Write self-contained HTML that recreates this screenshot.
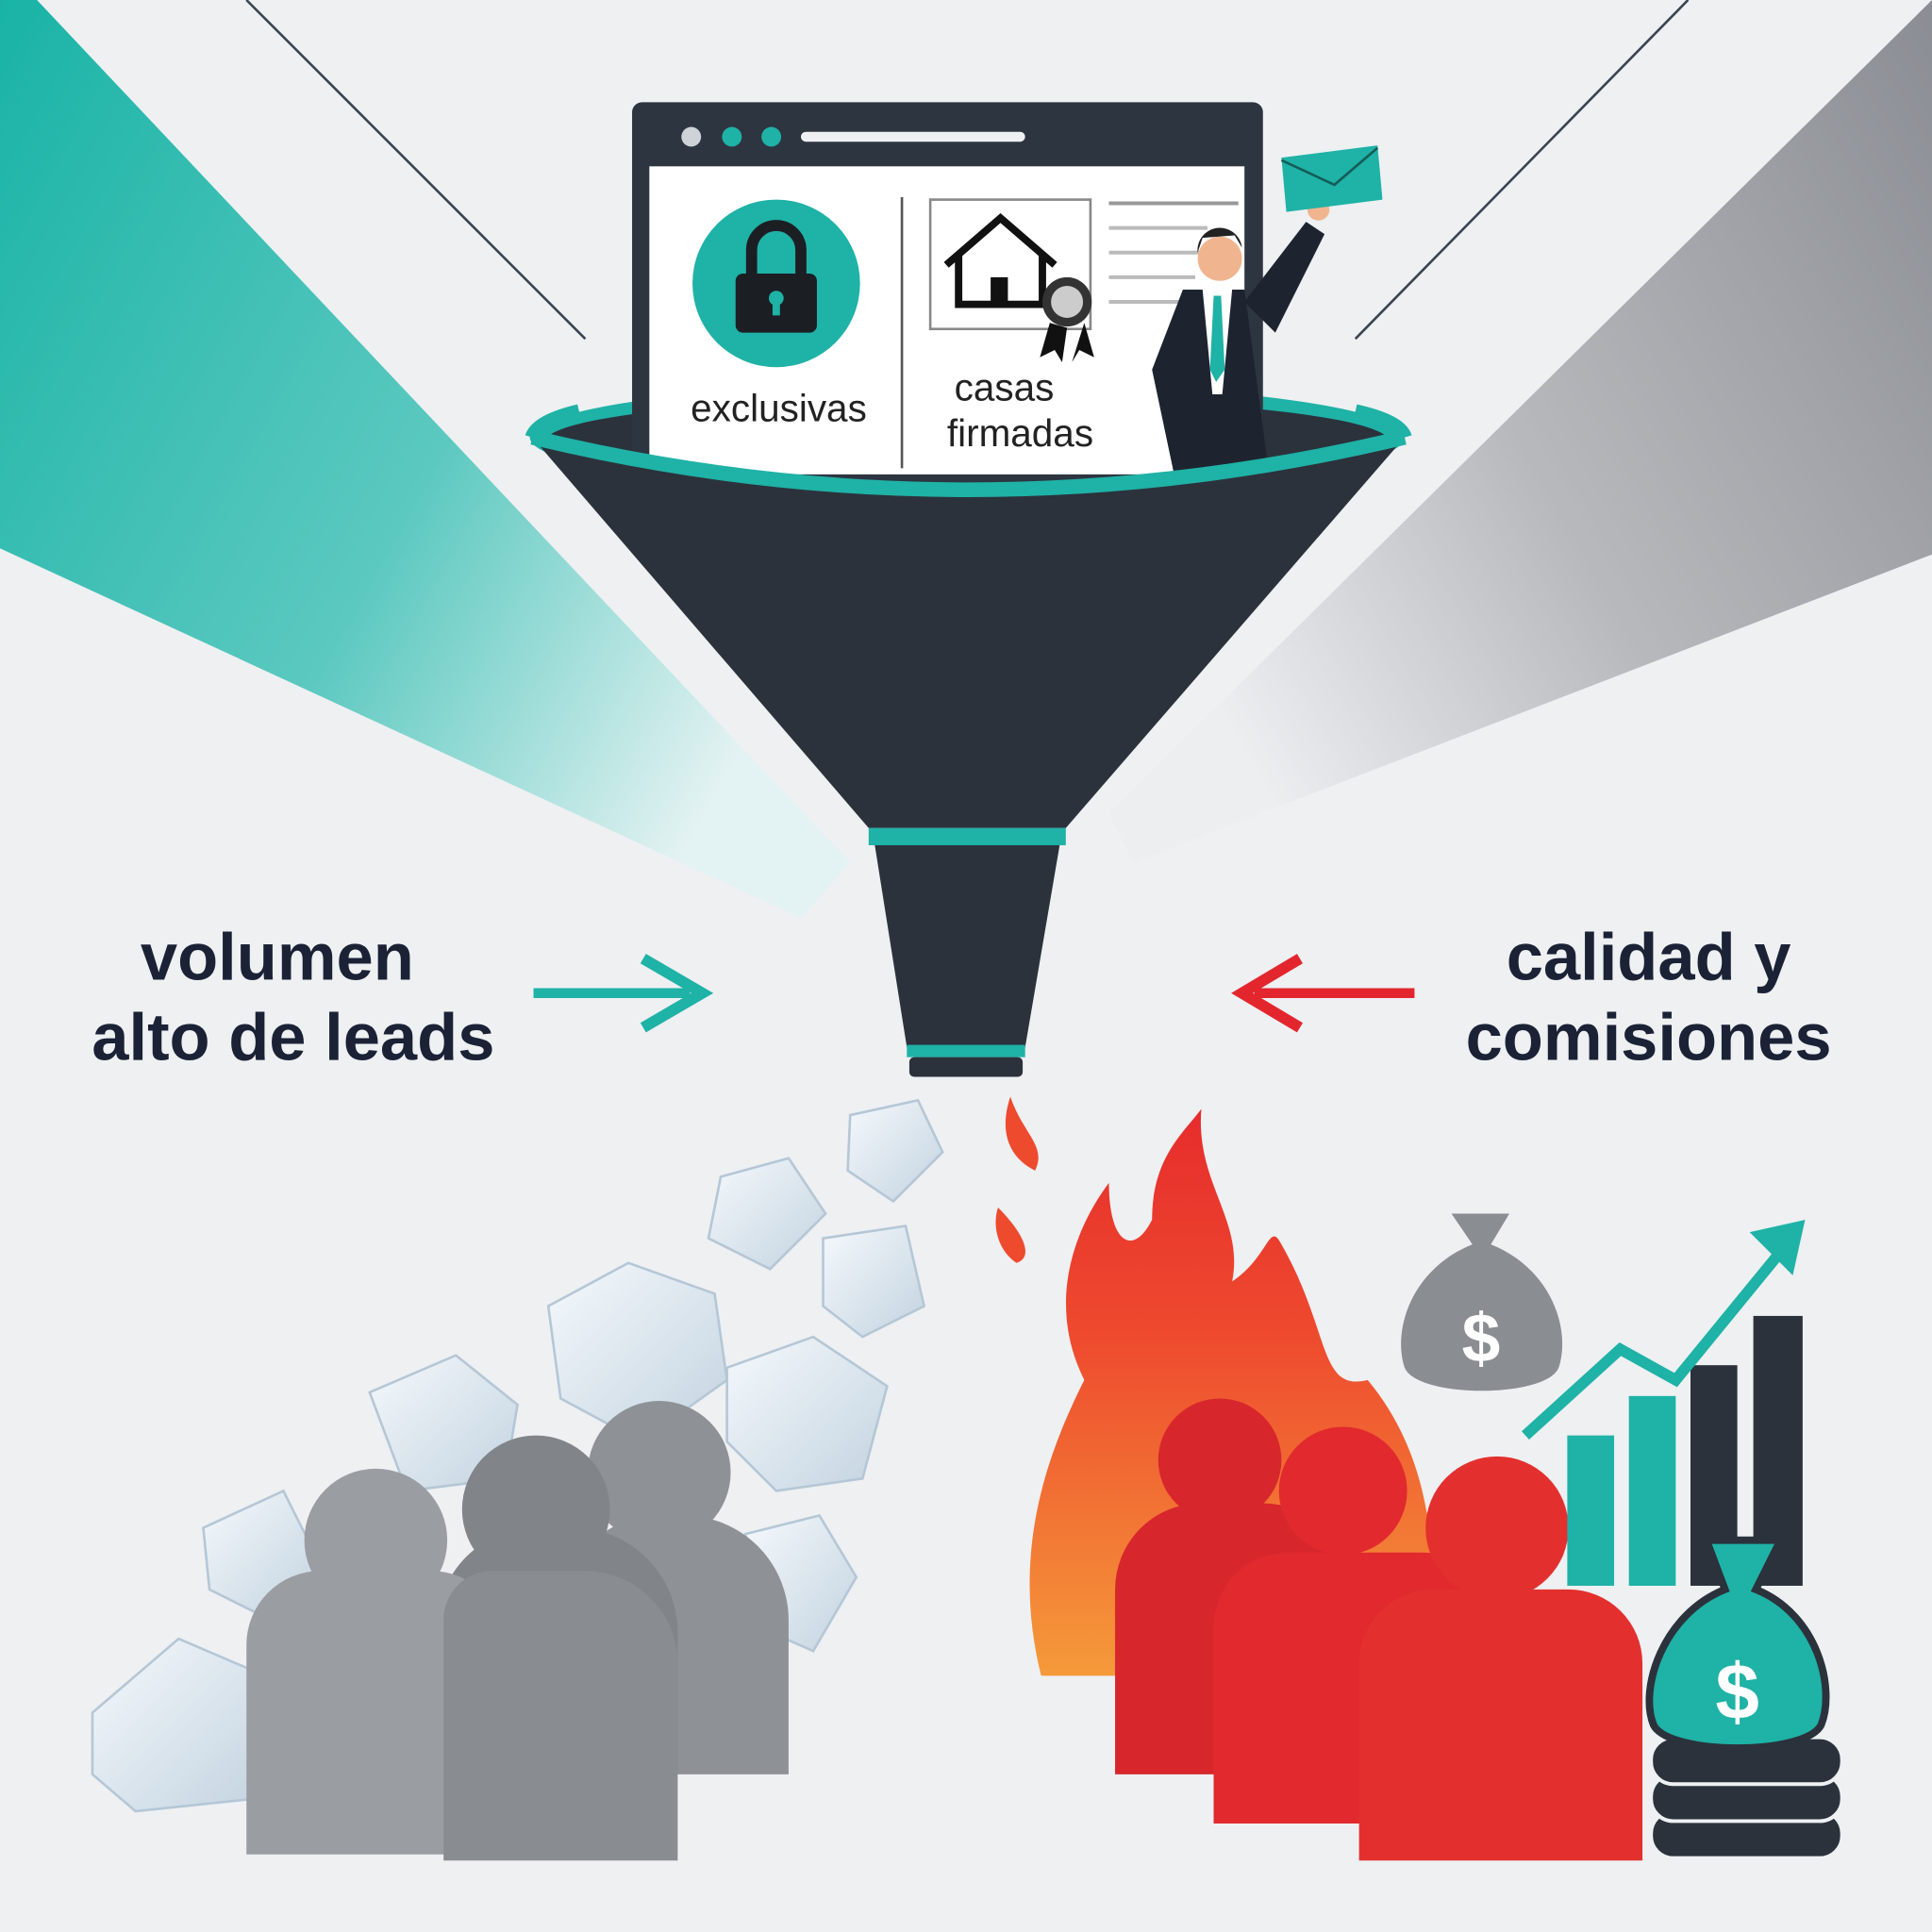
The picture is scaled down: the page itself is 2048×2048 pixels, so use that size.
<!DOCTYPE html>
<html><head><meta charset="utf-8"><style>
html,body{margin:0;padding:0;background:#eef0f2;}
svg{display:block}
text{font-family:"Liberation Sans",sans-serif;}
</style></head><body>
<svg width="2048" height="2048" viewBox="0 0 1568 1568" xmlns="http://www.w3.org/2000/svg">
<defs>
<linearGradient id="tl" x1="0" y1="0" x2="1" y2="0.6">
<stop offset="0" stop-color="#19b3a6"/><stop offset="0.6" stop-color="#5cc9c0"/><stop offset="1" stop-color="#e3f2f2"/></linearGradient>
<linearGradient id="gr" x1="1" y1="0" x2="0" y2="0.6">
<stop offset="0" stop-color="#8a8d93"/><stop offset="0.6" stop-color="#b7b9bd"/><stop offset="1" stop-color="#eceef0"/></linearGradient>
<linearGradient id="fl" x1="0" y1="1" x2="0" y2="0">
<stop offset="0" stop-color="#f59a3a"/><stop offset="0.6" stop-color="#ee4a2e"/><stop offset="1" stop-color="#e62c2c"/></linearGradient>
<linearGradient id="ice" x1="0" y1="0" x2="1" y2="1">
<stop offset="0" stop-color="#f5f9fc"/><stop offset="1" stop-color="#c3d3e0"/></linearGradient>
</defs>
<rect width="1568" height="1568" fill="#eef0f2"/>
<polygon points="0,0 30,0 690,700 650,745 0,445" fill="url(#tl)"/>
<polygon points="1568,0 1568,450 920,700 900,660" fill="url(#gr)"/>
<line x1="200" y1="0" x2="475" y2="275" stroke="#3a4452" stroke-width="2"/>
<line x1="1370" y1="0" x2="1100" y2="275" stroke="#3a4452" stroke-width="2"/>
<ellipse cx="785" cy="355" rx="355" ry="45" fill="#1fb2a6"/>
<ellipse cx="785" cy="358" rx="342" ry="36" fill="#2b323c"/>
<rect x="513" y="83" width="512" height="320" rx="8" fill="#2d3540"/>
<rect x="527" y="135" width="483" height="250" fill="#ffffff"/>
<circle cx="561" cy="111" r="8" fill="#cfd3d7"/>
<circle cx="594" cy="111" r="8" fill="#1fb2a6"/>
<circle cx="626" cy="111" r="8" fill="#1fb2a6"/>
<rect x="650" y="107" width="182" height="8" rx="4" fill="#eef0f2"/>
<line x1="732" y1="160" x2="732" y2="380" stroke="#555" stroke-width="2"/>
<circle cx="630" cy="230" r="68" fill="#1fb2a6"/>
<path d="M610 225 v-22 a20 20 0 0 1 40 0 v22" fill="none" stroke="#1b1f24" stroke-width="9"/>
<rect x="597" y="222" width="66" height="48" rx="6" fill="#1b1f24"/>
<circle cx="630" cy="242" r="6" fill="#1fb2a6"/><rect x="627" y="242" width="6" height="14" fill="#1fb2a6"/>
<text x="632" y="342" font-size="31" text-anchor="middle" fill="#222">exclusivas</text>
<rect x="755" y="162" width="130" height="105" fill="none" stroke="#888" stroke-width="2"/>
<path d="M768 215 L812 177 L856 215 M778 207 v40 h68 v-40" fill="none" stroke="#111" stroke-width="6"/>
<rect x="804" y="225" width="14" height="22" fill="#111"/>
<circle cx="866" cy="245" r="20" fill="#333"/><circle cx="866" cy="245" r="13" fill="#ccc"/>
<path d="M852 262 l-8 28 12-6 6 10 4-28 M880 262 l8 28-12-6-6 10" fill="#111"/>
<line x1="900" y1="165" x2="1005" y2="165" stroke="#999" stroke-width="3"/>
<line x1="900" y1="185" x2="980" y2="185" stroke="#bbb" stroke-width="3"/>
<line x1="900" y1="205" x2="975" y2="205" stroke="#bbb" stroke-width="3"/>
<line x1="900" y1="225" x2="970" y2="225" stroke="#bbb" stroke-width="3"/>
<line x1="900" y1="245" x2="960" y2="245" stroke="#bbb" stroke-width="3"/>
<text x="815" y="325" font-size="31" text-anchor="middle" fill="#222">casas</text>
<text x="828" y="362" font-size="31" text-anchor="middle" fill="#222">firmadas</text>
<path d="M960 235 L1010 235 L1030 385 L955 395 L935 300 Z" fill="#1d2430"/>
<path d="M1010 245 L1060 180 L1075 190 L1035 270 Z" fill="#1d2430"/>
<circle cx="990" cy="210" r="18" fill="#f0b58f"/>
<path d="M972 205 a18 18 0 0 1 36 -4 l-6 -10 -26 2z" fill="#222"/>
<polygon points="976,235 1000,235 992,320 984,320" fill="#fff"/>
<polygon points="985,240 991,240 994,300 987,310 982,300" fill="#1fb2a6"/>
<circle cx="1070" cy="170" r="9" fill="#f0b58f"/>
<polygon points="1040,128 1118,118 1122,162 1044,172" fill="#1fb2a6"/>
<polyline points="1040,130 1083,150 1118,120" fill="none" stroke="#145e58" stroke-width="2"/>
<path d="M432 355 Q785 440 1140 355 L865 672 L705 672 Z" fill="#2b323c"/>
<path d="M432 355 Q785 440 1140 355" fill="none" stroke="#1fb2a6" stroke-width="12"/>
<path d="M432 355 Q436 342 470 334" fill="none" stroke="#1fb2a6" stroke-width="12"/>
<path d="M1140 355 Q1136 342 1100 334" fill="none" stroke="#1fb2a6" stroke-width="12"/>
<rect x="705" y="672" width="160" height="14" fill="#1fb2a6"/>
<path d="M710 686 L860 686 L832 850 L736 850 Z" fill="#2b323c"/>
<rect x="736" y="848" width="96" height="10" fill="#1fb2a6"/>
<rect x="738" y="858" width="92" height="16" rx="4" fill="#2b323c"/>
<text x="225" y="795" font-size="54" font-weight="bold" text-anchor="middle" fill="#1b2236">volumen</text>
<text x="238" y="860" font-size="54" font-weight="bold" text-anchor="middle" fill="#1b2236">alto de leads</text>
<text x="1338" y="795" font-size="54" font-weight="bold" text-anchor="middle" fill="#1b2236">calidad y</text>
<text x="1338" y="860" font-size="54" font-weight="bold" text-anchor="middle" fill="#1b2236">comisiones</text>
<line x1="433" y1="806" x2="560" y2="806" stroke="#1fb2a6" stroke-width="8"/>
<polyline points="522,778 570,806 522,834" fill="none" stroke="#1fb2a6" stroke-width="9"/>
<line x1="1148" y1="806" x2="1018" y2="806" stroke="#e3262d" stroke-width="8"/>
<polyline points="1055,778 1008,806 1055,834" fill="none" stroke="#e3262d" stroke-width="9"/>
<g fill="url(#ice)" stroke="#b5c7d6" stroke-width="2">
<polygon points="690,905 745,893 765,935 725,975 688,950"/>
<polygon points="585,955 640,940 670,985 625,1030 575,1005"/>
<polygon points="668,1005 735,995 750,1060 700,1085 668,1060"/>
<polygon points="445,1060 510,1025 580,1050 590,1120 520,1170 455,1135"/>
<polygon points="590,1110 660,1085 720,1125 700,1200 630,1210 590,1170"/>
<polygon points="300,1130 370,1100 420,1140 410,1200 330,1210"/>
<polygon points="165,1240 230,1210 260,1270 210,1310 170,1290"/>
<polygon points="605,1245 665,1230 695,1280 660,1340 615,1320"/>
<polygon points="75,1390 145,1330 215,1360 205,1460 110,1470 75,1440"/>
</g>
<g fill="#8e9196">
<circle cx="535" cy="1195" r="58"/><path d="M455 1440 v-130 a80 80 0 0 1 80 -80 h20 a85 85 0 0 1 85 85 v125 z"/>
</g>
<g fill="#818489">
<circle cx="435" cy="1225" r="60"/><path d="M355 1440 v-120 a80 80 0 0 1 80 -80 h30 a85 85 0 0 1 85 85 v115 z"/>
</g>
<g fill="#9a9da2">
<circle cx="305" cy="1250" r="58"/><path d="M200 1505 v-170 a60 60 0 0 1 60 -60 h90 a60 60 0 0 1 60 60 v170 z"/>
</g>
<path d="M360 1430 v80 h190 v-160 a75 75 0 0 0 -75 -75 h-70 a40 40 0 0 0 -45 40 z" fill="#898c91"/>
<path d="M845 1360 C820 1260 850 1180 880 1120 C850 1060 870 1000 900 960 C900 1010 920 1020 935 990 C935 940 960 920 975 900 C970 960 1010 990 1000 1040 C1030 1020 1030 990 1040 1010 C1080 1080 1070 1130 1110 1120 C1160 1180 1170 1260 1160 1360 Z" fill="url(#fl)"/>
<path d="M820 890 C830 920 850 930 840 950 C820 940 810 920 820 890Z M810 980 C830 1000 840 1020 825 1025 C810 1015 805 995 810 980Z" fill="#ee4a2e"/>
<g fill="#d8262d">
<circle cx="990" cy="1185" r="50"/><path d="M905 1440 v-150 a70 70 0 0 1 70 -70 h50 a70 70 0 0 1 70 70 v150 z"/>
</g>
<g fill="#e1292e">
<circle cx="1090" cy="1210" r="52"/><path d="M985 1480 v-160 a60 60 0 0 1 60 -60 h110 a60 60 0 0 1 60 60 v160 z"/>
</g>
<g fill="#e3302f">
<circle cx="1215" cy="1240" r="58"/><path d="M1103 1510 v-160 a60 60 0 0 1 60 -60 h110 a60 60 0 0 1 60 60 v160 z"/>
</g>
<path d="M1178 985 L1225 985 L1210 1010 C1260 1030 1275 1080 1265 1110 C1255 1135 1150 1135 1140 1110 C1130 1080 1145 1030 1195 1010 Z" fill="#8a8d92"/>
<text x="1202" y="1105" font-size="56" font-weight="bold" text-anchor="middle" fill="#fff">$</text>
<rect x="1272" y="1165" width="38" height="122" fill="#1fb2a6"/>
<rect x="1322" y="1133" width="38" height="154" fill="#1fb2a6"/>
<rect x="1372" y="1108" width="38" height="179" fill="#2b323c"/>
<rect x="1423" y="1068" width="40" height="219" fill="#2b323c"/>
<polyline points="1238,1165 1315,1095 1360,1120 1450,1010" fill="none" stroke="#1fb2a6" stroke-width="9"/>
<polygon points="1465,990 1420,1000 1455,1035" fill="#1fb2a6"/>
<g fill="#2b323c" stroke="#eef0f2" stroke-width="3">
<rect x="1340" y="1470" width="155" height="38" rx="18"/>
<rect x="1340" y="1440" width="155" height="38" rx="18"/>
<rect x="1340" y="1410" width="155" height="38" rx="18"/>
</g>
<path d="M1385 1250 L1445 1250 L1425 1290 C1475 1310 1490 1370 1478 1400 C1465 1425 1355 1425 1342 1400 C1330 1370 1350 1310 1400 1290 Z" fill="#1fb2a6" stroke="#2b323c" stroke-width="6"/>
<text x="1410" y="1395" font-size="64" font-weight="bold" text-anchor="middle" fill="#fff">$</text>
</svg>
</body></html>
